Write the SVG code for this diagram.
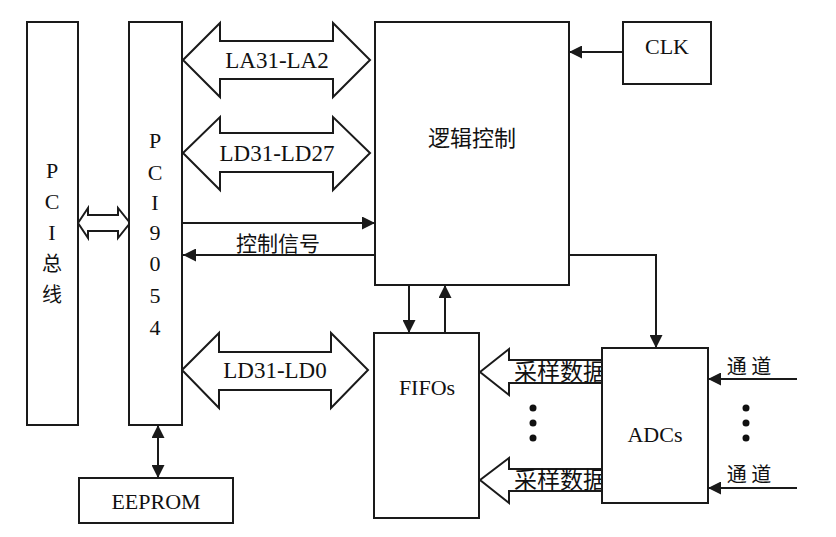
<svg xmlns="http://www.w3.org/2000/svg" width="836" height="537" viewBox="0 0 836 537">
<style>
.box{fill:#fff;stroke:#1a1a1a;stroke-width:2}
.bus{fill:#fff;stroke:#1a1a1a;stroke-width:2;stroke-linejoin:miter}
.ln{fill:none;stroke:#1a1a1a;stroke-width:2}
.t{font-family:"Liberation Serif","Noto Sans CJK SC",serif;fill:#111;text-anchor:middle}
.c{font-family:"Noto Sans CJK SC","Liberation Serif",sans-serif;fill:#111;text-anchor:middle}
</style>
<defs>
<marker id="ah" viewBox="0 0 10 10" refX="10" refY="5" markerWidth="15" markerHeight="13" markerUnits="userSpaceOnUse" orient="auto-start-reverse">
<path d="M0,0 L10,5 L0,10 z" fill="#1a1a1a"/>
</marker>
</defs>
<rect width="836" height="537" fill="#fff"/>
<g id="connectors">
<polygon class="bus" points="78,223 88,208 88,215 118,215 118,208 130,223 118,238 118,231 88,231 88,238"/>
<polygon class="bus" points="183,60 220,23 220,41 333,41 333,23 370,60 333,97 333,79 220,79 220,97"/>
<polygon class="bus" points="183,153 220,117 220,133 333,133 333,117 370,153 333,190 333,172 220,172 220,190"/>
<polygon class="bus" points="182,370 219,333 219,352 331,352 331,333 368,370 331,408 331,390 219,390 219,408"/>
<line class="ln" x1="183" y1="223" x2="375" y2="223" marker-end="url(#ah)"/>
<line class="ln" x1="375" y1="255" x2="183" y2="255" marker-end="url(#ah)"/>
<line class="ln" x1="623" y1="52" x2="569" y2="52" marker-end="url(#ah)"/>
<polyline class="ln" points="569,255 656,255 656,348" marker-end="url(#ah)"/>
<line class="ln" x1="409" y1="285" x2="409" y2="333" marker-end="url(#ah)"/>
<line class="ln" x1="445" y1="333" x2="445" y2="285" marker-end="url(#ah)"/>
<line class="ln" x1="158" y1="425" x2="158" y2="478" marker-start="url(#ah)" marker-end="url(#ah)"/>
<polygon class="bus" points="480,372 509,349 509,360 620,360 620,383 509,383 509,395"/>
<polygon class="bus" points="480,480 509,458 509,469 620,469 620,491 509,491 509,503"/>
<line class="ln" x1="797" y1="379" x2="708" y2="379" marker-end="url(#ah)"/>
<line class="ln" x1="797" y1="488" x2="708" y2="488" marker-end="url(#ah)"/>
<text class="t" x="277" y="68" font-size="23">LA31-LA2</text>
<text class="t" x="277" y="161" font-size="23">LD31-LD27</text>
<text class="t" x="275" y="378" font-size="23">LD31-LD0</text>
<text class="c" x="278" y="251" font-size="21">控制信号</text>
<text class="c" x="560" y="380" font-size="23">采样数据</text>
<text class="c" x="560" y="488" font-size="23">采样数据</text>
<text class="c" x="749" y="374" font-size="20">通 道</text>
<text class="c" x="749" y="482" font-size="20">通 道</text>
<g fill="#111">
<circle cx="533" cy="408" r="3.5"/><circle cx="533" cy="423" r="3.5"/><circle cx="533" cy="438" r="3.5"/>
<circle cx="746" cy="408" r="3.5"/><circle cx="746" cy="423" r="3.5"/><circle cx="746" cy="438" r="3.5"/>
</g>
</g>
<g id="pci-bus">
<rect class="box" x="27" y="22" width="51" height="403"/>
<text class="t" x="52" y="178" font-size="22">P</text>
<text class="t" x="52" y="209" font-size="22">C</text>
<text class="t" x="52" y="240" font-size="22">I</text>
<text class="c" x="52" y="271" font-size="20">总</text>
<text class="c" x="52" y="302" font-size="20">线</text>
</g>
<g id="pci9054">
<rect class="box" x="129" y="22" width="53" height="403"/>
<text class="t" x="155" y="148" font-size="22">P</text>
<text class="t" x="155" y="180" font-size="22">C</text>
<text class="t" x="155" y="210" font-size="22">I</text>
<text class="t" x="155" y="240" font-size="22">9</text>
<text class="t" x="155" y="271" font-size="22">0</text>
<text class="t" x="155" y="303" font-size="22">5</text>
<text class="t" x="155" y="335" font-size="22">4</text>
</g>
<g id="logic">
<rect class="box" x="375" y="22" width="194" height="263"/>
<text class="c" x="472" y="146" font-size="22">逻辑控制</text>
</g>
<g id="clk">
<rect class="box" x="623" y="22" width="88" height="62"/>
<text class="t" x="667" y="54" font-size="22">CLK</text>
</g>
<g id="fifos">
<rect class="box" x="374" y="333" width="105" height="185"/>
<text class="t" x="427" y="395" font-size="22">FIFOs</text>
</g>
<g id="adcs">
<rect class="box" x="602" y="348" width="106" height="155"/>
<text class="t" x="655" y="442" font-size="22">ADCs</text>
</g>
<g id="eeprom">
<rect class="box" x="79" y="478" width="154" height="45"/>
<text class="t" x="156" y="509" font-size="22">EEPROM</text>
</g>
</svg>
